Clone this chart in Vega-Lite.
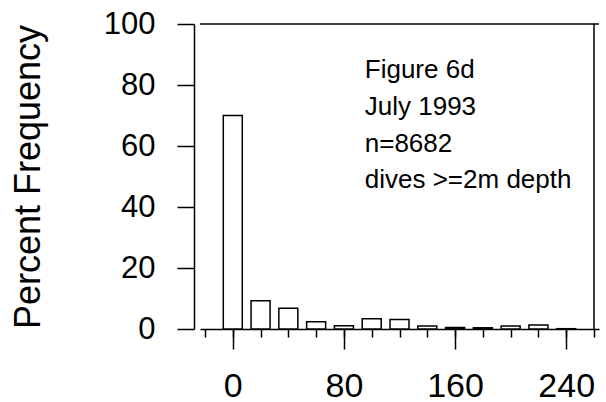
{
  "$schema": "https://vega.github.io/schema/vega-lite/v6.json",
  "width": 399,
  "height": 305,
  "autosize": {"type": "none"},
  "padding": {"left": 200, "top": 24, "right": 7, "bottom": 73},
  "background": "white",
  "config": {
    "view": {"stroke": null},
    "font": "Liberation Sans",
    "axis": {
      "grid": false,
      "domainColor": "black",
      "tickColor": "black",
      "labelColor": "black",
      "titleColor": "black",
      "domainWidth": 1.5,
      "tickWidth": 1.5,
      "labelFont": "Liberation Sans",
      "titleFont": "Liberation Sans",
      "titleFontWeight": "normal"
    }
  },
  "datasets": {
    "bars": [
      {"duration": 0, "percent": 70},
      {"duration": 20, "percent": 9.3},
      {"duration": 40, "percent": 6.8},
      {"duration": 60, "percent": 2.4},
      {"duration": 80, "percent": 1.1},
      {"duration": 100, "percent": 3.4},
      {"duration": 120, "percent": 3.1},
      {"duration": 140, "percent": 1.0},
      {"duration": 160, "percent": 0.5},
      {"duration": 180, "percent": 0.4},
      {"duration": 200, "percent": 1.0},
      {"duration": 220, "percent": 1.3},
      {"duration": 240, "percent": 0.1}
    ],
    "notes": [
      {"label": "Figure 6d", "x": 95, "y": 82.2},
      {"label": "July 1993", "x": 95, "y": 70.2},
      {"label": "n=8682", "x": 95, "y": 58.1},
      {"label": "dives >=2m depth", "x": 95, "y": 46.1}
    ],
    "frame": [{"top": 100, "right": 260}]
  },
  "layer": [
    {
      "data": {"name": "bars"},
      "mark": {"type": "bar", "fill": "white", "stroke": "black", "strokeWidth": 1.5, "size": 19},
      "encoding": {
        "x": {
          "field": "duration",
          "type": "quantitative",
          "scale": {"domain": [-20, 260], "nice": false, "zero": false},
          "axis": {
            "orient": "bottom",
            "values": [-20, 0, 20, 40, 60, 80, 100, 120, 140, 160, 180, 200, 220, 240, 260],
            "tickSize": 8,
            "labels": false,
            "title": null
          }
        },
        "y": {
          "field": "percent",
          "type": "quantitative",
          "scale": {"domain": [0, 100], "nice": false},
          "axis": {
            "values": [0, 20, 40, 60, 80, 100],
            "tickSize": 17,
            "labelFontSize": 31,
            "labelPadding": 22,
            "offset": 6,
            "title": "Percent Frequency",
            "titleFontSize": 36,
            "titlePadding": 56
          }
        }
      }
    },
    {
      "data": {"name": "frame"},
      "mark": {"type": "rule", "color": "black", "strokeWidth": 1.5},
      "encoding": {"y": {"field": "top", "type": "quantitative", "title": "Percent Frequency"}}
    },
    {
      "data": {"name": "frame"},
      "mark": {"type": "rule", "color": "black", "strokeWidth": 1.5},
      "encoding": {
        "x": {
          "field": "right",
          "type": "quantitative",
          "axis": {
            "orient": "bottom",
            "values": [0, 80, 160, 240],
            "tickSize": 20,
            "domain": false,
            "labelFontSize": 34,
            "labelPadding": 20,
            "title": null
          }
        }
      }
    },
    {
      "data": {"name": "notes"},
      "mark": {"type": "text", "align": "left", "baseline": "alphabetic", "fontSize": 26, "color": "black", "font": "Liberation Sans"},
      "encoding": {
        "x": {"field": "x", "type": "quantitative", "axis": null},
        "y": {"field": "y", "type": "quantitative", "title": "Percent Frequency"},
        "text": {"field": "label"}
      }
    }
  ],
  "resolve": {"axis": {"x": "independent"}}
}
